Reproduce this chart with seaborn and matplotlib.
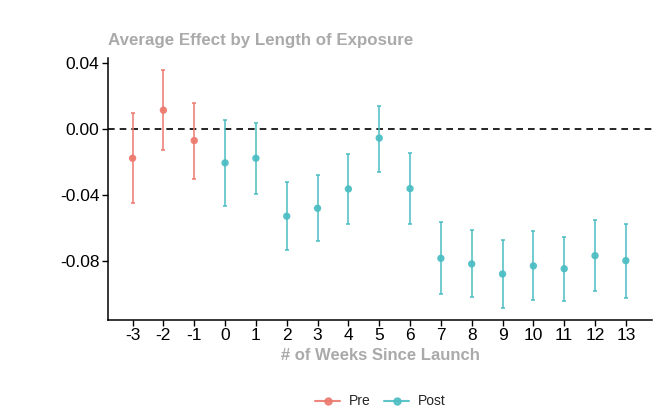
import numpy as np
import pandas as pd
import matplotlib
matplotlib.use('Agg')
import matplotlib.pyplot as plt
from matplotlib.lines import Line2D
import seaborn as sns

weeks = [-3, -2, -1, 0, 1, 2, 3, 4, 5, 6, 7, 8, 9, 10, 11, 12, 13]
effect = [-0.0178, 0.0113, -0.0071, -0.0206, -0.0178, -0.0529, -0.0481, -0.0364,
          -0.0056, -0.0362, -0.0784, -0.0818, -0.0879, -0.0830, -0.0847, -0.0768, -0.0798]
upper = [0.0095, 0.0358, 0.0159, 0.0055, 0.0038, -0.0323, -0.0281, -0.0152,
         0.0141, -0.0145, -0.0566, -0.0610, -0.0671, -0.0618, -0.0653, -0.0552, -0.0576]
lower = [-0.0448, -0.0131, -0.0301, -0.0467, -0.0394, -0.0733, -0.0677, -0.0574,
         -0.0260, -0.0574, -0.0998, -0.1020, -0.1087, -0.1038, -0.1040, -0.0982, -0.1022]
period = ['Pre'] * 3 + ['Post'] * 14

df = pd.DataFrame({'week': weeks, 'effect': effect, 'upper': upper,
                   'lower': lower, 'period': period})

sns.set_style('white')
plt.rcParams['font.family'] = ['Liberation Sans', 'DejaVu Sans']

colors = {'Pre': '#EC7A6F', 'Post': '#4DBEC3'}

fig = plt.figure(figsize=(6.58, 4.13), dpi=100)
ax = fig.add_axes([0.164, 0.225, 0.827, 0.635])

ax.axhline(0, color='black', ls=(0, (4, 3)), lw=1.2, zorder=1)

for p, g in df.groupby('period'):
    ax.errorbar(g['week'], g['effect'],
                yerr=[g['effect'] - g['lower'], g['upper'] - g['effect']],
                fmt='none', ecolor=colors[p], alpha=0.85, elinewidth=1.3,
                capsize=1.5, capthick=1.3, zorder=2)

sns.scatterplot(data=df, x='week', y='effect', hue='period', palette=colors,
                s=28, edgecolor='none', alpha=0.95, legend=False, ax=ax, zorder=3)

ax.set_xlim(-3.8, 13.85)
ax.set_ylim(-0.1158, 0.043)
ax.set_xticks(weeks)
ax.set_xticklabels([str(w) for w in weeks])
ax.set_yticks([0.04, 0.0, -0.04, -0.08])
ax.set_yticklabels(['0.04', '0.00', '-0.04', '-0.08'])
ax.tick_params(axis='both', labelsize=12.5, colors='black', length=4, width=1,
               direction='out', bottom=True, left=True, pad=2)
for s in ['top', 'right']:
    ax.spines[s].set_visible(False)
for s in ['left', 'bottom']:
    ax.spines[s].set_color('black')
    ax.spines[s].set_linewidth(1.1)

ax.set_xlabel('# of Weeks Since Launch', fontsize=12, fontweight='bold',
              color='#AAAAAA', labelpad=3)
ax.set_ylabel('')
fig.text(0.164, (413 - 41) / 413, 'Average Effect by Length of Exposure',
         fontsize=12.2, fontweight='bold', color='#AAAAAA', va='center', ha='left')

handles = [Line2D([], [], color=colors[k], marker='o', markersize=5, lw=1.5,
                  alpha=0.9, label=k) for k in ['Pre', 'Post']]
fig.legend(handles=handles, loc='center', bbox_to_anchor=(0.578, 0.028), ncol=2,
           frameon=False, fontsize=10, handlelength=1.8, columnspacing=1.0,
           handletextpad=0.6)

fig.savefig('out.png', dpi=100)
